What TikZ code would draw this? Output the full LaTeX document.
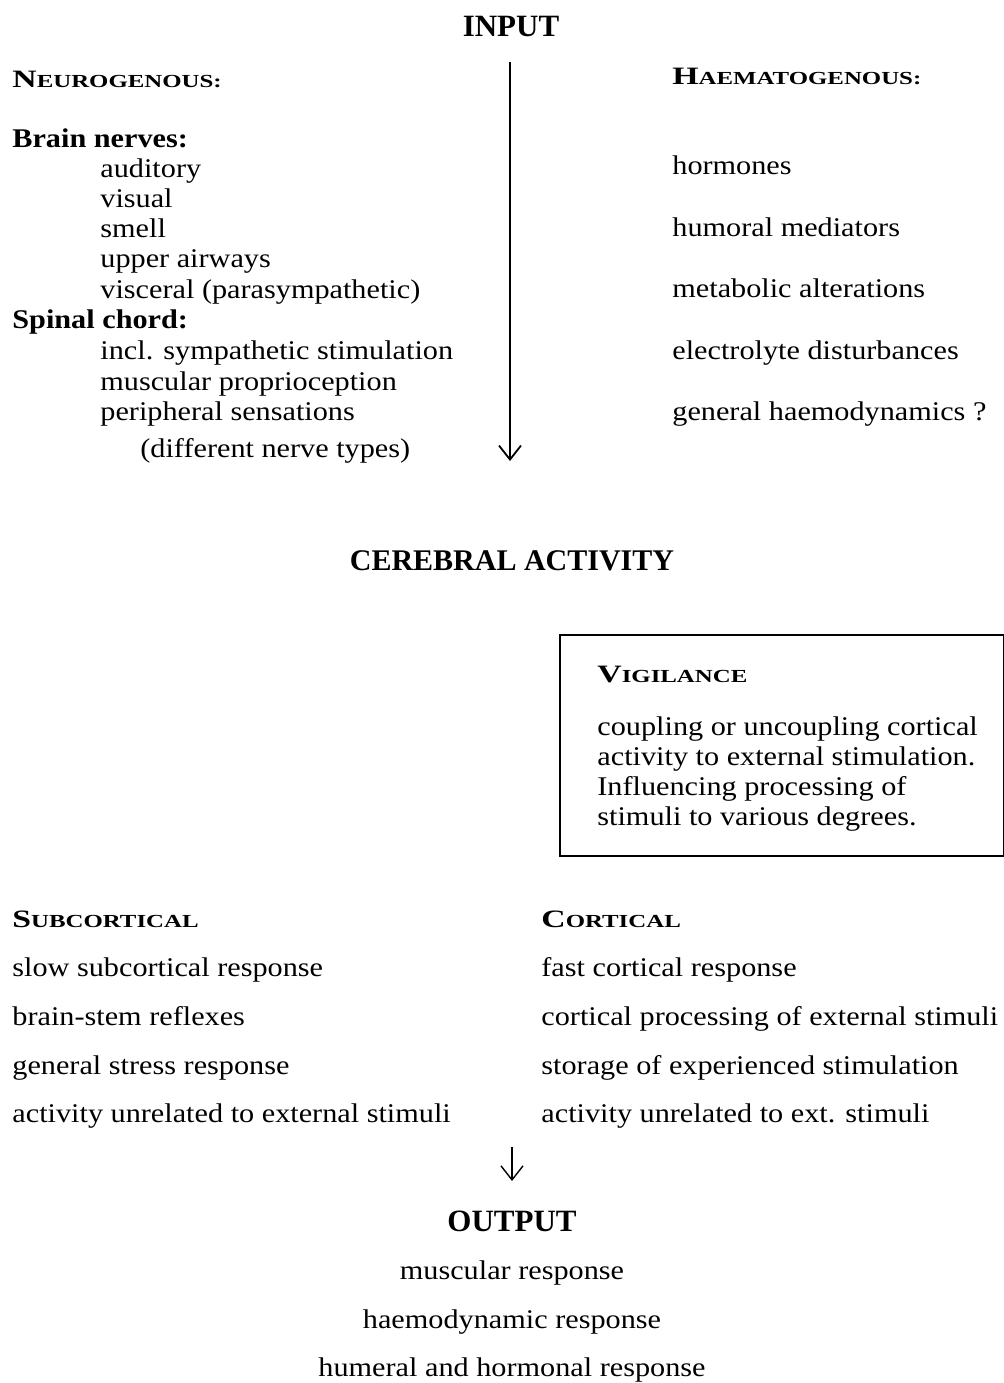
\documentclass[tikz,border=0pt]{standalone}
\usepackage{fontspec}
\setmainfont{Liberation Serif}[FakeStretch=1.12]
\newfontfamily\titlefont{Liberation Serif}
\newfontfamily\headfont{Liberation Serif}[FakeStretch=1.35]
\usepackage{tikz}
\usetikzlibrary{arrows.meta,positioning}

\newcommand{\fakesc}[2]{#1{\fontsize{9.2}{9}\selectfont #2}}

\tikzset{
  txt/.style={anchor=base west, inner sep=0pt, font=\fontsize{13.5}{15}\selectfont},
  btxt/.style={txt, font=\bfseries\fontsize{13.5}{15}\selectfont},
  head/.style={anchor=base west, inner sep=0pt, font=\headfont\bfseries\fontsize{12.5}{12}\selectfont},
  title/.style={anchor=base, inner sep=0pt, font=\titlefont\bfseries\fontsize{15.5}{16}\selectfont},
  ctxt/.style={anchor=base, inner sep=0pt, font=\fontsize{13.5}{15}\selectfont},
  flow/.style={-{Straight Barb[length=7pt,width=11pt]}, line width=0.9pt},
}

\begin{document}
\begin{tikzpicture}[x=0.5pt,y=-0.5pt]
\useasboundingbox (0,0) rectangle (1004,1383);

% input
\node[title] (input) at (511,36) {INPUT};
\node[head] (neuro) at (12,87) {\fakesc{N}{EUROGENOUS:}};
\node[head] (haema) at (672,84) {\fakesc{H}{AEMATOGENOUS:}};

\node[btxt] (brain) at (12,147) {Brain nerves:};
\foreach \t [count=\i] in {auditory, visual, smell, upper airways, visceral (parasympathetic)}
  \node[txt] (bn\i) at (100,147+30.2*\i) {\t};
\node[btxt] (spinal) at (12,328) {Spinal chord:};
\foreach \t [count=\i] in {incl. sympathetic stimulation, muscular proprioception, peripheral sensations}
  \node[txt] (sc\i) at (100,329+30.5*\i) {\t};
\node[txt] (types) at (140,457) {(different nerve types)};

\foreach \t [count=\i] in {hormones, humoral mediators, metabolic alterations, electrolyte disturbances, general haemodynamics ?}
  \node[txt] (hm\i) at (672,113+61.5*\i) {\t};

\coordinate (inTop) at (510,62);
\coordinate (inEnd) at (510,461);
\draw[flow] (inTop) -- (inEnd);

% cerebral activity
\node[title, font=\titlefont\bfseries\fontsize{15}{16}\selectfont] (cereb) at (512,570) {CEREBRAL ACTIVITY};

\node[draw, line width=1pt, anchor=north west, inner sep=0pt,
      minimum width=222pt, minimum height=110.5pt] (vig) at (559,634) {};
\node[head] (vigt) at (597,682) {\fakesc{V}{IGILANCE}};
\foreach \t [count=\i] in {coupling or uncoupling cortical, activity to external stimulation., Influencing processing of, stimuli to various degrees.}
  \node[txt] (vg\i) at (597,705+30*\i) {\t};

\node[head] (subc) at (12,927) {\fakesc{S}{UBCORTICAL}};
\node[head] (cort) at (541,927) {\fakesc{C}{ORTICAL}};
\foreach \t [count=\i] in {slow subcortical response, brain-stem reflexes, general stress response, activity unrelated to external stimuli}
  \node[txt] (sb\i) at (12,928+48.7*\i) {\t};
\foreach \t [count=\i] in {fast cortical response, cortical processing of external stimuli, storage of experienced stimulation, activity unrelated to ext. stimuli}
  \node[txt] (ct\i) at (541,928+48.7*\i) {\t};

% output
\coordinate (outTop) at (512,1147);
\coordinate (outEnd) at (512,1181);
\draw[flow, line width=0.7pt] (outTop) -- (outEnd);
\node[title] (output) at (512,1231) {OUTPUT};
\foreach \t [count=\i] in {muscular response, haemodynamic response, humeral and hormonal response}
  \node[ctxt] (out\i) at (512,1231+48.5*\i) {\t};
\end{tikzpicture}
\end{document}
